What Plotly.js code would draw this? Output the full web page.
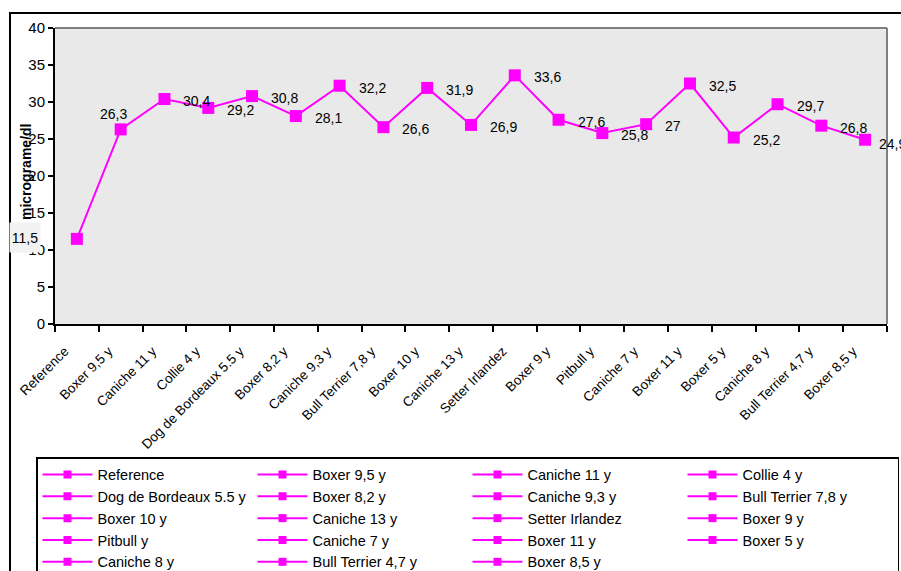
<!DOCTYPE html>
<html>
<head>
<meta charset="utf-8">
<script src="https://cdn.plot.ly/plotly-3.0.1.min.js"></script>
<style>html,body{margin:0;padding:0;background:#fff;} #chart{width:901px;height:571px;}</style>
</head>
<body>
<div id="chart"></div>
<script>
const categories = ["Reference","Boxer 9,5 y","Caniche 11 y","Collie 4 y","Dog de Bordeaux 5.5 y","Boxer 8,2 y","Caniche 9,3 y","Bull Terrier 7,8 y","Boxer 10 y","Caniche 13 y","Setter Irlandez","Boxer 9 y","Pitbull y","Caniche 7 y","Boxer 11 y","Boxer 5 y","Caniche 8 y","Bull Terrier 4,7 y","Boxer 8,5 y"];
const values = [11.5,26.3,30.4,29.2,30.8,28.1,32.2,26.6,31.9,26.9,33.6,27.6,25.8,27,32.5,25.2,29.7,26.8,24.9];
const yTicks = [0,5,10,15,20,25,30,35,40];

const W = 901, H = 571;
const M = {l:55, r:14, t:28, b:247, autoexpand: false};
const PW = W - M.l - M.r, PH = H - M.t - M.b;
const px = x => (x - M.l) / PW;
const py = y => (H - M.b - y) / PH;

const FONT = "Liberation Sans, Arial, sans-serif";
const MAG = "#FF00FF";

const traces = [{
  type: "scatter", mode: "lines+markers",
  x: categories, y: values,
  line: {color: MAG, width: 2},
  marker: {color: MAG, symbol: "square", size: 12},
  showlegend: false, hoverinfo: "x+y"
}];
categories.forEach(c => traces.push({
  type: "scatter", mode: "lines+markers", x: [null], y: [null], name: c,
  line: {color: MAG, width: 2}, marker: {color: MAG, symbol: "square", size: 8},
  showlegend: true
}));

const last = values.length - 1;
const annotations = values.map((v, i) => {
  const a = {x: categories[i], y: v, xref: "x", yref: "y", text: String(v).replace(".", ","),
    showarrow: false, font: {family: FONT, size: 14, color: "#000"},
    xanchor: "left", xshift: 17, yshift: -2};
  if (i === 0) { a.xanchor = "right"; a.xshift = -36; a.yshift = 1; a.bgcolor = "#f2f2f2";
    a.borderpad = 1; a.width = 28; a.height = 27; }
  if (i === 1) { a.xanchor = "center"; a.xshift = -7; a.yshift = 15; }
  if (i === last) { a.xshift = 12; a.yshift = -4; }
  return a;
});
annotations.push({
  xref: "paper", yref: "paper", x: px(26), y: py(172), text: "<b>micrograme/dl</b>",
  textangle: -90, showarrow: false, font: {family: FONT, size: 14, color: "#000"},
  xanchor: "center", yanchor: "middle"
});

const layout = {
  width: W, height: H, margin: M,
  paper_bgcolor: "#ffffff", plot_bgcolor: "#e9e9e9",
  font: {family: FONT, size: 14, color: "#000"},
  xaxis: {type: "category", tickangle: -45, ticks: "outside", tickson: "boundaries", ticklen: 6,
    tickcolor: "#000", tickwidth: 2, showline: true, linecolor: "#000", linewidth: 2, automargin: false,
    showgrid: false, zeroline: false, tickfont: {family: FONT, size: 13.5, color: "#000"},
    ticklabelstandoff: 12, ticklabelshift: -12,
    range: [-0.5, categories.length - 0.5]},
  yaxis: {range: [0, 40], tickvals: yTicks, ticks: "outside", ticklen: 5, tickcolor: "#000", tickwidth: 2,
    showline: true, linecolor: "#000", linewidth: 2, showgrid: false, zeroline: false, automargin: false,
    tickfont: {family: FONT, size: 15, color: "#000"}},
  legend: {orientation: "h", x: px(36), xanchor: "left", y: py(457), yanchor: "top",
    bgcolor: "#fff", bordercolor: "#000", borderwidth: 1.5, itemwidth: 50,
    entrywidth: 150, entrywidthmode: "pixels", font: {family: FONT, size: 14.5, color: "#000"},
    traceorder: "normal", itemclick: false},
  annotations: annotations,
  shapes: [
    {type: "rect", xref: "paper", yref: "paper", x0: px(10), x1: 1.2, y0: -2, y1: py(13),
      line: {color: "#000", width: 2}, layer: "below"},
    {type: "line", xref: "paper", yref: "paper", x0: 0, x1: 1, y0: 1, y1: 1, line: {color: "#808080", width: 2}},
    {type: "line", xref: "paper", yref: "paper", x0: 1, x1: 1, y0: 0, y1: 1, line: {color: "#808080", width: 2}}
  ],
  showlegend: true
};

Plotly.newPlot("chart", traces, layout, {displayModeBar: false, staticPlot: true});
</script>
</body>
</html>
